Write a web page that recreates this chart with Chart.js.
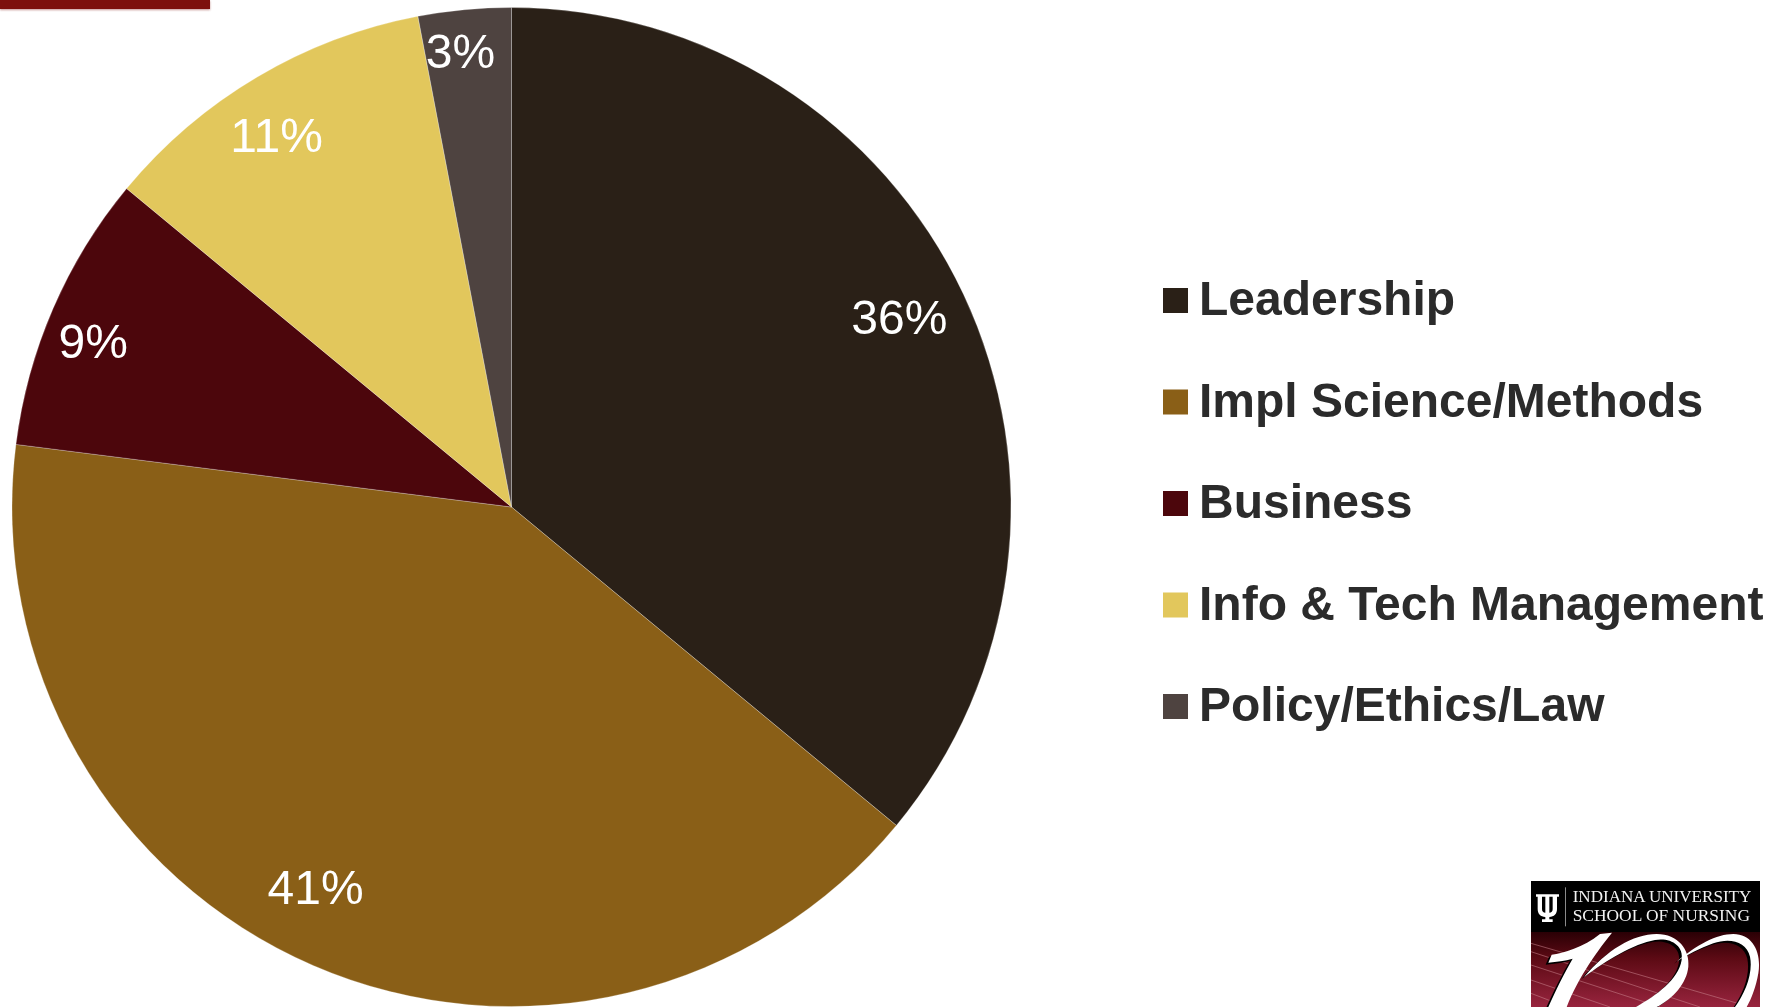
<!DOCTYPE html>
<html>
<head>
<meta charset="utf-8">
<title>Areas de estudio</title>
<script src="https://cdn.jsdelivr.net/npm/chart.js@4"></script>
<style>
    html, body { margin: 0; padding: 0; background: #fff; overflow: hidden; }
    #wrap { position: relative; width: 1779px; height: 1007px; }
    #topBar { position: absolute; left: 0; top: 0; width: 210px; height: 9px; background: #7d100d; box-shadow: 0 1px 2px rgba(125,16,13,.45); }
    #logo { position: absolute; left: 1500px; top: 860px; }
</style>
</head>
<body>
<div id="wrap">
    <canvas id="pieChart" width="1779" height="1007"></canvas>
    <div id="topBar"></div>
    <svg id="logo" width="279" height="147" viewBox="0 0 837 441">
        <defs>
            <linearGradient id="maroon" x1="0" y1="0" x2="0" y2="1">
                <stop offset="0" stop-color="#2a0005"/>
                <stop offset="0.35" stop-color="#5c0a14"/>
                <stop offset="1" stop-color="#98243e"/>
            </linearGradient>
            <clipPath id="logoClip"><rect x="93" y="63" width="687" height="378"/></clipPath>
        </defs>
        <rect x="93" y="63" width="687" height="153" fill="#000"/>
        <rect x="93" y="216" width="687" height="225" fill="url(#maroon)"/>
        <g clip-path="url(#logoClip)">
            <g stroke="#c9828c" stroke-width="3" opacity=".55">
                <line x1="93" y1="250" x2="720" y2="432"/>
                <line x1="93" y1="275" x2="600" y2="441"/>
                <line x1="93" y1="315" x2="480" y2="441"/>
                <line x1="93" y1="360" x2="330" y2="441"/>
                <line x1="93" y1="400" x2="200" y2="441"/>
            </g>
            <!-- el 100 del logo -->
            <g fill="#000" transform="translate(-8,6)">
                <path d="M145 308 L155 284 C190 280 250 262 300 222 L336 218 C300 262 235 350 200 441 L145 441 C165 395 195 335 218 296 C195 303 170 305 145 308 Z"/>
                <path d="M252 352 C320 270 400 222 470 222 C535 222 570 270 565 320 C560 370 520 415 470 441 L408 441 C470 405 535 360 545 300 C552 255 510 232 465 240 C400 252 320 300 252 352 Z"/>
                <path d="M530 305 C590 255 650 222 700 222 C760 222 785 280 775 340 C768 380 755 415 740 441 L705 441 C735 400 760 340 750 290 C740 245 690 232 640 250 C600 265 560 285 530 305 Z"/>
            </g>
            <g fill="#fff">
                <path d="M145 308 L155 284 C190 280 250 262 300 222 L336 218 C300 262 235 350 200 441 L145 441 C165 395 195 335 218 296 C195 303 170 305 145 308 Z"/>
                <path d="M252 352 C320 270 400 222 470 222 C535 222 570 270 565 320 C560 370 520 415 470 441 L408 441 C470 405 535 360 545 300 C552 255 510 232 465 240 C400 252 320 300 252 352 Z"/>
                <path d="M530 305 C590 255 650 222 700 222 C760 222 785 280 775 340 C768 380 755 415 740 441 L705 441 C735 400 760 340 750 290 C740 245 690 232 640 250 C600 265 560 285 530 305 Z"/>
            </g>
        </g>
        <!-- tridente -->
        <path fill="#fff" d="M108 103 H131 V110 H126 V147 C126 155 130 158 136 158 V110 H130 V103 H154 V110 H148 V158 C154 158 158 155 158 147 V110 H153 V103 H177 V110 H171 V147 C171 162 162 170 148 171 V178 H158 V186 H126 V178 H136 V171 C122 170 113 162 113 147 V110 H108 Z"/>
        <rect x="195" y="82" width="3" height="117" fill="#8a8a8a"/>
        <text x="218" y="127" font-family="Liberation Serif" font-size="47" fill="#f2f2f2" textLength="536" lengthAdjust="spacingAndGlyphs">INDIANA UNIVERSITY</text>
        <text x="218" y="184" font-family="Liberation Serif" font-size="47" fill="#f2f2f2" textLength="532" lengthAdjust="spacingAndGlyphs">SCHOOL OF NURSING</text>
    </svg>
</div>
<script>
// Datos del gráfico
const categorias = ['Leadership', 'Impl Science/Methods', 'Business', 'Info & Tech Management', 'Policy/Ethics/Law'];
const porcentajes = [36, 41, 9, 11, 3];
const colores = ['#2a2017', '#8a5f17', '#4c060c', '#e2c75c', '#4e4340'];

// Radio relativo y ajuste de cada etiqueta dentro de su porción
const radioEtiquetas = [0.864, 0.858, 0.90, 0.88, 0.917];
const giroEtiquetas = [-0.8, 3.8, -1.9, -1.7, -1.0];

// Porcentajes en blanco sobre cada porción
const etiquetasPlugin = {
    id: 'etiquetas',
    afterDatasetsDraw(chart) {
        const ctx = chart.ctx;
        const arcos = chart.getDatasetMeta(0).data;
        ctx.save();
        ctx.fillStyle = '#ffffff';
        ctx.font = '48px "Liberation Sans"';
        ctx.textBaseline = 'middle';
        ctx.textAlign = 'center';
        arcos.forEach((arco, i) => {
            const medio = (arco.startAngle + arco.endAngle) / 2 + giroEtiquetas[i] * Math.PI / 180;
            const r = arco.outerRadius * radioEtiquetas[i];
            const x = arco.x + Math.cos(medio) * r;
            const y = arco.y + Math.sin(medio) * r + 3;
            ctx.fillText(porcentajes[i] + '%', x, y);
        });
        ctx.restore();
    }
};

// Leyenda a la derecha
const leyendaPlugin = {
    id: 'leyenda',
    afterDraw(chart) {
        const ctx = chart.ctx;
        ctx.save();
        ctx.font = 'bold 48px "Liberation Sans"';
        ctx.textBaseline = 'alphabetic';
        ctx.textAlign = 'left';
        categorias.forEach((cat, i) => {
            const y = 288 + i * 101.5;
            ctx.fillStyle = colores[i];
            ctx.fillRect(1163, y, 25, 25);
            ctx.fillStyle = '#2b2b2b';
            ctx.fillText(cat, 1199, y + 27);
        });
        ctx.restore();
    }
};

new Chart(document.getElementById('pieChart'), {
    type: 'pie',
    data: {
        labels: categorias,
        datasets: [{
            data: porcentajes,
            backgroundColor: colores,
            borderColor: 'rgba(255,255,255,0.25)',
            borderWidth: 1
        }]
    },
    options: {
        responsive: false,
        animation: false,
        layout: { padding: { left: 11, right: 767, top: 7, bottom: 0 } },
        plugins: {
            legend: { display: false },
            tooltip: { enabled: false }
        }
    },
    plugins: [etiquetasPlugin, leyendaPlugin]
});
</script>
</body>
</html>
